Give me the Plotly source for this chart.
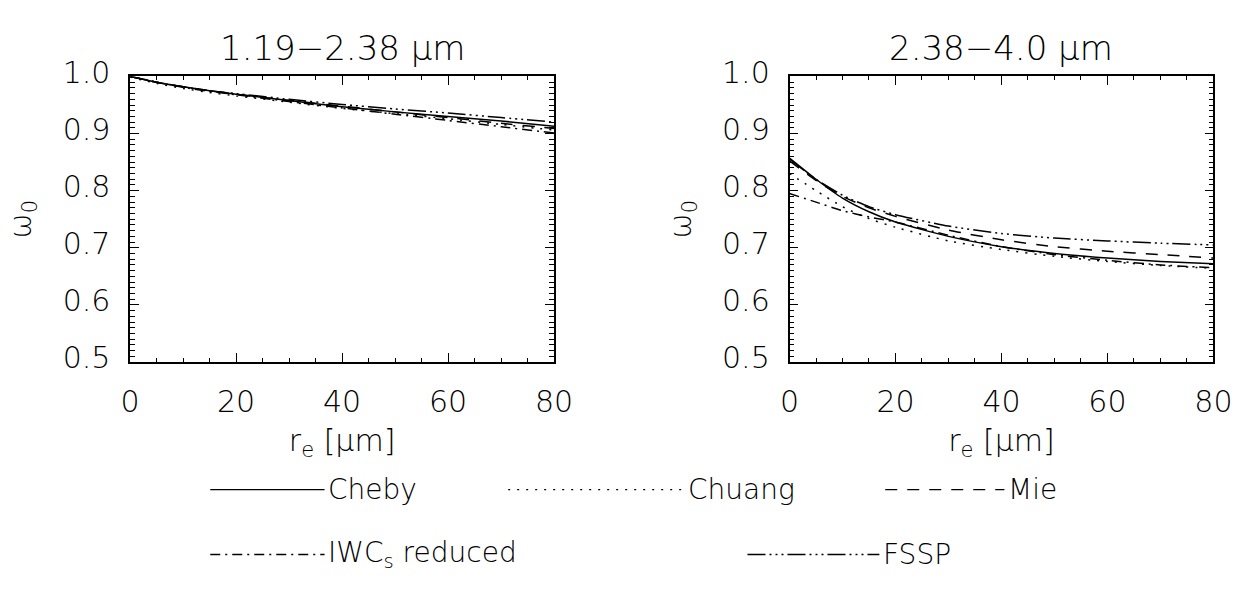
import plotly.graph_objects as go

# ---------------- data ----------------
r_eff = [0, 5, 10, 15, 20, 30, 40, 50, 60, 70, 80]

# 1.19-2.38 um
left_cheby  = [1.000, 0.990, 0.982, 0.975, 0.969, 0.958, 0.947, 0.938, 0.930, 0.922, 0.913]
left_chuang = [0.999, 0.988, 0.979, 0.972, 0.966, 0.955, 0.944, 0.935, 0.926, 0.916, 0.906]
left_mie    = [1.000, 0.990, 0.982, 0.975, 0.969, 0.958, 0.948, 0.938, 0.928, 0.918, 0.909]
left_iwc    = [1.000, 0.990, 0.981, 0.974, 0.968, 0.956, 0.945, 0.934, 0.923, 0.912, 0.901]
left_fssp   = [1.000, 0.990, 0.982, 0.975, 0.970, 0.960, 0.951, 0.943, 0.936, 0.928, 0.920]

# 2.38-4.0 um
right_cheby  = [0.857, 0.820, 0.787, 0.763, 0.745, 0.720, 0.702, 0.690, 0.682, 0.676, 0.672]
right_chuang = [0.830, 0.800, 0.772, 0.751, 0.736, 0.712, 0.697, 0.685, 0.676, 0.669, 0.664]
right_mie    = [0.852, 0.818, 0.790, 0.770, 0.755, 0.731, 0.714, 0.702, 0.694, 0.688, 0.682]
right_iwc    = [0.795, 0.780, 0.765, 0.754, 0.745, 0.722, 0.702, 0.688, 0.678, 0.670, 0.665]
right_fssp   = [0.855, 0.820, 0.792, 0.772, 0.758, 0.738, 0.725, 0.717, 0.712, 0.708, 0.705]

series_names = ["Cheby", "Chuang", "Mie", "IWC<sub>s</sub> reduced", "FSSP"]
panel_titles = ["1.19\u22122.38 \u03bcm", "2.38\u22124.0 \u03bcm"]
x_ticks = [0, 20, 40, 60, 80]
y_ticks = [0.5, 0.6, 0.7, 0.8, 0.9, 1.0]
y_ticktext = ["0.5", "0.6", "0.7", "0.8", "0.9", "1.0"]

# ---------------- styles ----------------
dashes = ["solid", "2px,7px", "12px,10px", "10px,5px,2px,5px", "18px,4px,2px,4px,2px,4px,2px,4px"]
W, H = 1251, 592
FONT = "DejaVu Sans ExtraLight, DejaVu Sans"
WEIGHT = 200
BLACK = "#000"

fig = go.Figure()
left_data = [left_cheby, left_chuang, left_mie, left_iwc, left_fssp]
right_data = [right_cheby, right_chuang, right_mie, right_iwc, right_fssp]
for panel, data in ((1, left_data), (2, right_data)):
    for name, vals, dash in zip(series_names, data, dashes):
        fig.add_trace(go.Scatter(
            x=r_eff, y=vals, mode="lines", name=name, showlegend=False,
            line=dict(color=BLACK, width=1.5, dash=dash, shape="spline", smoothing=0.6),
            xaxis="x" if panel == 1 else "x2", yaxis="y" if panel == 1 else "y2"))

def px_x(p):
    return p / W

def px_y(p):
    return (H - p) / H

dom_left = [px_x(123), px_x(557)]
dom_right = [px_x(798), px_x(1232)]
dom_y = [px_y(362), px_y(58)]

tickfont = dict(family=FONT, size=30, color=BLACK, weight=WEIGHT)

def xaxis(domain, anchor):
    return dict(domain=domain, anchor=anchor, range=[0, 80], tickvals=x_ticks,
                ticks="inside", ticklen=9, tickwidth=1.3, tickcolor=BLACK,
                showline=True, linecolor=BLACK, linewidth=1.5, mirror="allticks",
                showgrid=False, zeroline=False, tickfont=tickfont, ticklabelstandoff=12,
                minor=dict(dtick=5, ticks="inside", ticklen=4, tickwidth=1, tickcolor=BLACK),
                title=dict(text="r<sub>e</sub> [\u03bcm]", font=tickfont, standoff=12))

def yaxis(domain, anchor):
    return dict(domain=domain, anchor=anchor, range=[0.5, 1.0], tickvals=y_ticks, ticktext=y_ticktext,
                ticks="inside", ticklen=9, tickwidth=1.3, tickcolor=BLACK,
                showline=True, linecolor=BLACK, linewidth=1.5, mirror="allticks",
                showgrid=False, zeroline=False, tickfont=tickfont, ticklabelstandoff=12,
                ticklabelshift=-4,
                minor=dict(dtick=0.01, ticks="inside", ticklen=5, tickwidth=1, tickcolor=BLACK),
                title=dict(text="\u03c9<sub>0</sub>", font=tickfont, standoff=22))

fig.update_layout(
    width=W, height=H, margin=dict(l=0, r=0, t=0, b=0),
    paper_bgcolor="white", plot_bgcolor="white",
    font=dict(family=FONT, color=BLACK, weight=WEIGHT),
    xaxis=xaxis(dom_left, "y"), yaxis=yaxis(dom_y, "x"),
    xaxis2=xaxis(dom_right, "y2"), yaxis2=yaxis(dom_y, "x2"),
)

# panel titles
for title, dom in zip(panel_titles, (dom_left, dom_right)):
    fig.add_annotation(text=title, x=(dom[0] + dom[1]) / 2, y=px_y(28), xref="paper", yref="paper",
                       showarrow=False, font=dict(family=FONT, size=34, color=BLACK, weight=WEIGHT),
                       xanchor="center", yanchor="middle")

# legend drawn below the panels (line samples + labels)
legend_layout = [  # (series index, line start px, line end px, row y px)
    (0, 205, 322, 498),
    (1, 510, 690, 498),
    (2, 896, 1018, 498),
    (3, 205, 322, 567),
    (4, 755, 890, 567),
]
for idx, x0, x1, yrow in legend_layout:
    fig.add_shape(type="line", xref="paper", yref="paper",
                  x0=px_x(x0), x1=px_x(x1), y0=px_y(yrow), y1=px_y(yrow),
                  line=dict(color=BLACK, width=1.3, dash=dashes[idx]))
    fig.add_annotation(text=series_names[idx], x=px_x(x1 + 2), y=px_y(yrow), xref="paper", yref="paper",
                       showarrow=False, xanchor="left", yanchor="middle",
                       font=dict(family=FONT, size=28, color=BLACK, weight=WEIGHT))

fig.write_html("out.html")
